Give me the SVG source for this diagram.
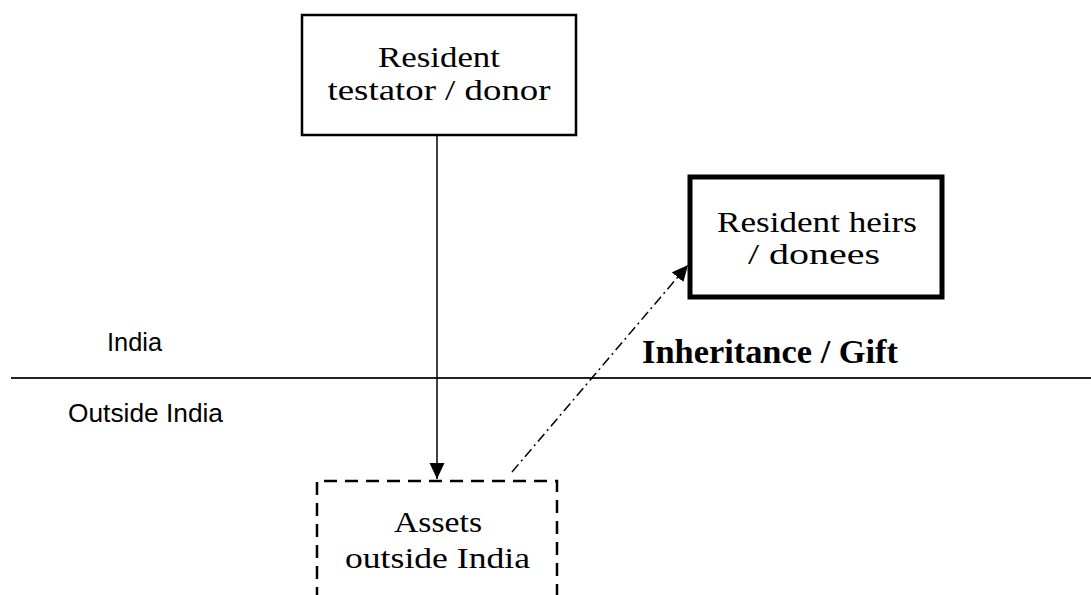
<svg xmlns="http://www.w3.org/2000/svg" width="1091" height="595" viewBox="0 0 1091 595">
<defs>
<style>
.serif{font-family:"Liberation Serif","DejaVu Serif",serif;font-size:30px;fill:#000;text-anchor:middle}
.sans{font-family:"Liberation Sans",Arial,sans-serif;font-size:25px;fill:#000}
.lbl{font-family:"Liberation Serif","DejaVu Serif",serif;font-size:33px;font-weight:bold;fill:#000}
.conn{stroke:#000;stroke-width:1.5;fill:none}
</style>
<marker id="ah" markerUnits="userSpaceOnUse" markerWidth="16" markerHeight="16" viewBox="0 0 16 16" refX="16" refY="8" orient="auto">
<path d="M0,0.5 L16,8 L0,15.5 z" fill="#000"/>
</marker>
</defs>
<rect width="1091" height="595" fill="#fff"/>
<g id="divider">
<line x1="11" y1="378" x2="1091" y2="378" stroke="#222" stroke-width="1.8"/>
<text class="sans" x="107" y="351" textLength="55" lengthAdjust="spacingAndGlyphs">India</text>
<text class="sans" x="68" y="422" textLength="155" lengthAdjust="spacingAndGlyphs">Outside India</text>
</g>
<g id="connectors">
<line class="conn" x1="437" y1="136" x2="437" y2="479" marker-end="url(#ah)"/>
<line class="conn" x1="512" y1="472" x2="688" y2="265" stroke-dasharray="10,4,2,4" marker-end="url(#ah)"/>
<text class="lbl" x="642" y="363" textLength="256" lengthAdjust="spacingAndGlyphs">Inheritance / Gift</text>
</g>
<g id="testator">
<rect x="302" y="15" width="274" height="120" fill="#fff" stroke="#000" stroke-width="2.5"/>
<text class="serif" x="439" y="67" textLength="122" lengthAdjust="spacingAndGlyphs">Resident</text>
<text class="serif" x="439" y="100" textLength="223" lengthAdjust="spacingAndGlyphs">testator / donor</text>
</g>
<g id="heirs">
<rect x="690" y="177" width="252" height="120" fill="#fff" stroke="#000" stroke-width="5"/>
<text class="serif" x="817" y="232" textLength="200" lengthAdjust="spacingAndGlyphs">Resident heirs</text>
<text class="serif" x="814" y="264" textLength="132" lengthAdjust="spacingAndGlyphs">/ donees</text>
</g>
<g id="assets">
<path d="M317,600 L317,481 L557,481 L557,600" fill="none" stroke="#000" stroke-width="2.5" stroke-dasharray="13,8"/>
<text class="serif" x="438" y="532" textLength="88" lengthAdjust="spacingAndGlyphs">Assets</text>
<text class="serif" x="437.5" y="568" textLength="185" lengthAdjust="spacingAndGlyphs">outside India</text>
</g>
</svg>
